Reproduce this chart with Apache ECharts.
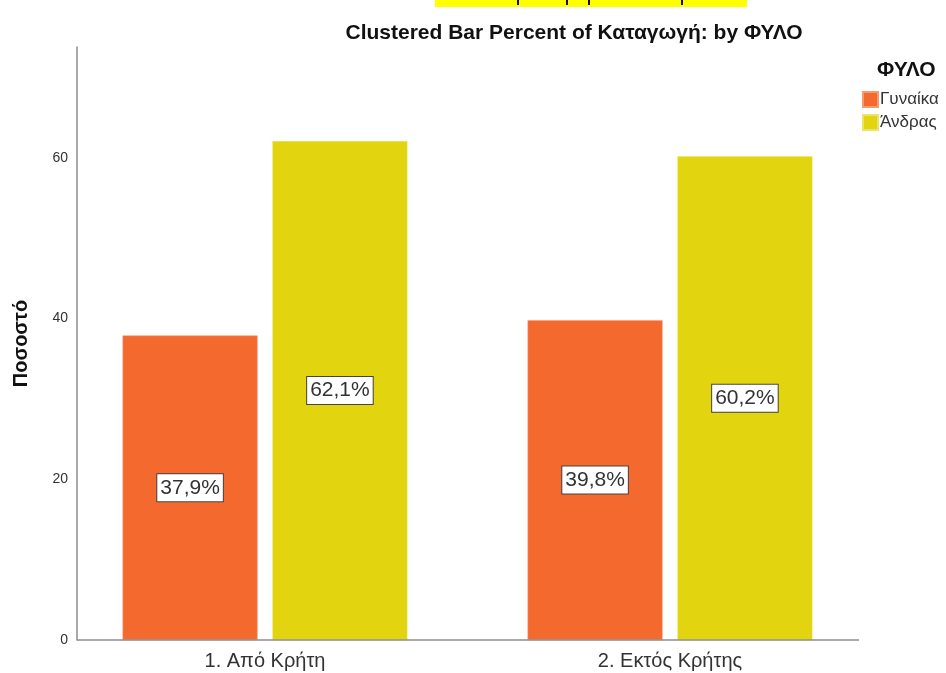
<!DOCTYPE html>
<html>
<head>
<meta charset="utf-8">
<script src="https://cdn.jsdelivr.net/npm/echarts@6/dist/echarts.min.js"></script>
<style>
  html, body { margin: 0; padding: 0; background: #fff; }
  #chart { width: 946px; height: 673px; }
</style>
</head>
<body>
<div id="chart"></div>
<script>
// data
const categories = ['1. Από Κρήτη', '2. Εκτός Κρήτης'];
const seriesNames = ['Γυναίκα', 'Άνδρας'];
const women = [37.9, 39.8];
const men = [62.1, 60.2];
const yTicks = [0, 20, 40, 60];

const chart = echarts.init(document.getElementById('chart'));

const fontFam = 'Arial, "Liberation Sans", sans-serif';

const barLabel = {
    show: true,
    position: 'inside',
    formatter: function (p) {
        return p.value.toFixed(1).replace('.', ',') + '%';
    },
    fontFamily: fontFam,
    fontSize: 21,
    lineHeight: 21,
    color: '#333',
    backgroundColor: '#fff',
    borderColor: '#444',
    borderWidth: 1,
    padding: [3, 3, 3, 3]
};

const option = {
    animation: false,
    backgroundColor: '#fff',
    title: [
        {
            text: 'Clustered Bar Percent of Καταγωγή: by ΦΥΛΟ',
            left: 569,
            textAlign: 'center',
            top: 18,
            textStyle: { fontFamily: fontFam, fontSize: 21, fontWeight: 'bold', color: '#111' }
        },
        {
            text: 'ΦΥΛΟ',
            left: 872,
            top: 55,
            textStyle: { fontFamily: fontFam, fontSize: 21, fontWeight: 'bold', color: '#111' }
        }
    ],
    legend: {
        orient: 'vertical',
        left: 857,
        top: 86,
        itemWidth: 15,
        itemHeight: 15,
        itemGap: 6,
        icon: 'rect',
        textStyle: { fontFamily: fontFam, fontSize: 17, color: '#333', padding: [0, 0, 0, -3] },
        data: seriesNames
    },
    grid: {
        left: 62.5,
        right: 73.5,
        top: 47,
        bottom: 33
    },
    xAxis: {
        type: 'category',
        data: categories,
        axisLine: { show: false },
        axisTick: { show: false },
        axisLabel: {
            fontFamily: fontFam,
            fontSize: 20,
            color: '#333',
            margin: 11
        }
    },
    yAxis: {
        type: 'value',
        min: 0,
        max: 73.8,
        interval: 20,
        offset: -14.5,
        name: 'Ποσοστό',
        nameLocation: 'middle',
        nameGap: 46,
        nameRotate: 90,
        nameTextStyle: { fontFamily: fontFam, fontSize: 20, fontWeight: 'bold', color: '#111' },
        axisLine: { show: true, lineStyle: { color: '#8c8c8c', width: 1.5 } },
        axisTick: { show: false },
        splitLine: { show: false },
        axisLabel: {
            showMaxLabel: false,
            fontFamily: fontFam,
            fontSize: 14,
            color: '#333',
            margin: 9,
            formatter: function (v) { return yTicks.indexOf(v) >= 0 ? String(v) : ''; }
        }
    },
    series: [
        {
            name: seriesNames[0],
            type: 'bar',
            data: women,
            barWidth: 135,
            barGap: '11%',
            itemStyle: { color: '#F4692D', borderColor: '#F79A6E', borderWidth: 0.5 },
            label: barLabel
        },
        {
            name: seriesNames[1],
            type: 'bar',
            data: men,
            barWidth: 135,
            itemStyle: { color: '#E2D50F', borderColor: '#ECE36A', borderWidth: 0.5 },
            label: barLabel
        }
    ],
    graphic: [
        // x axis baseline
        {
            type: 'line',
            shape: { x1: 77, y1: 640, x2: 859, y2: 640 },
            style: { stroke: '#8c8c8c', lineWidth: 1.5 },
            z: 10
        },
        // cropped highlighted heading at the very top
        { type: 'rect', shape: { x: 435, y: 0, width: 312, height: 7 }, style: { fill: '#FFFF00' } },
        { type: 'rect', shape: { x: 517, y: 0, width: 2, height: 5 }, style: { fill: '#111' } },
        { type: 'rect', shape: { x: 566, y: 0, width: 2, height: 5 }, style: { fill: '#111' } },
        { type: 'rect', shape: { x: 588, y: 0, width: 2, height: 5 }, style: { fill: '#111' } },
        { type: 'rect', shape: { x: 681, y: 0, width: 2, height: 5 }, style: { fill: '#111' } }
    ]
};

chart.setOption(option);
</script>
</body>
</html>
